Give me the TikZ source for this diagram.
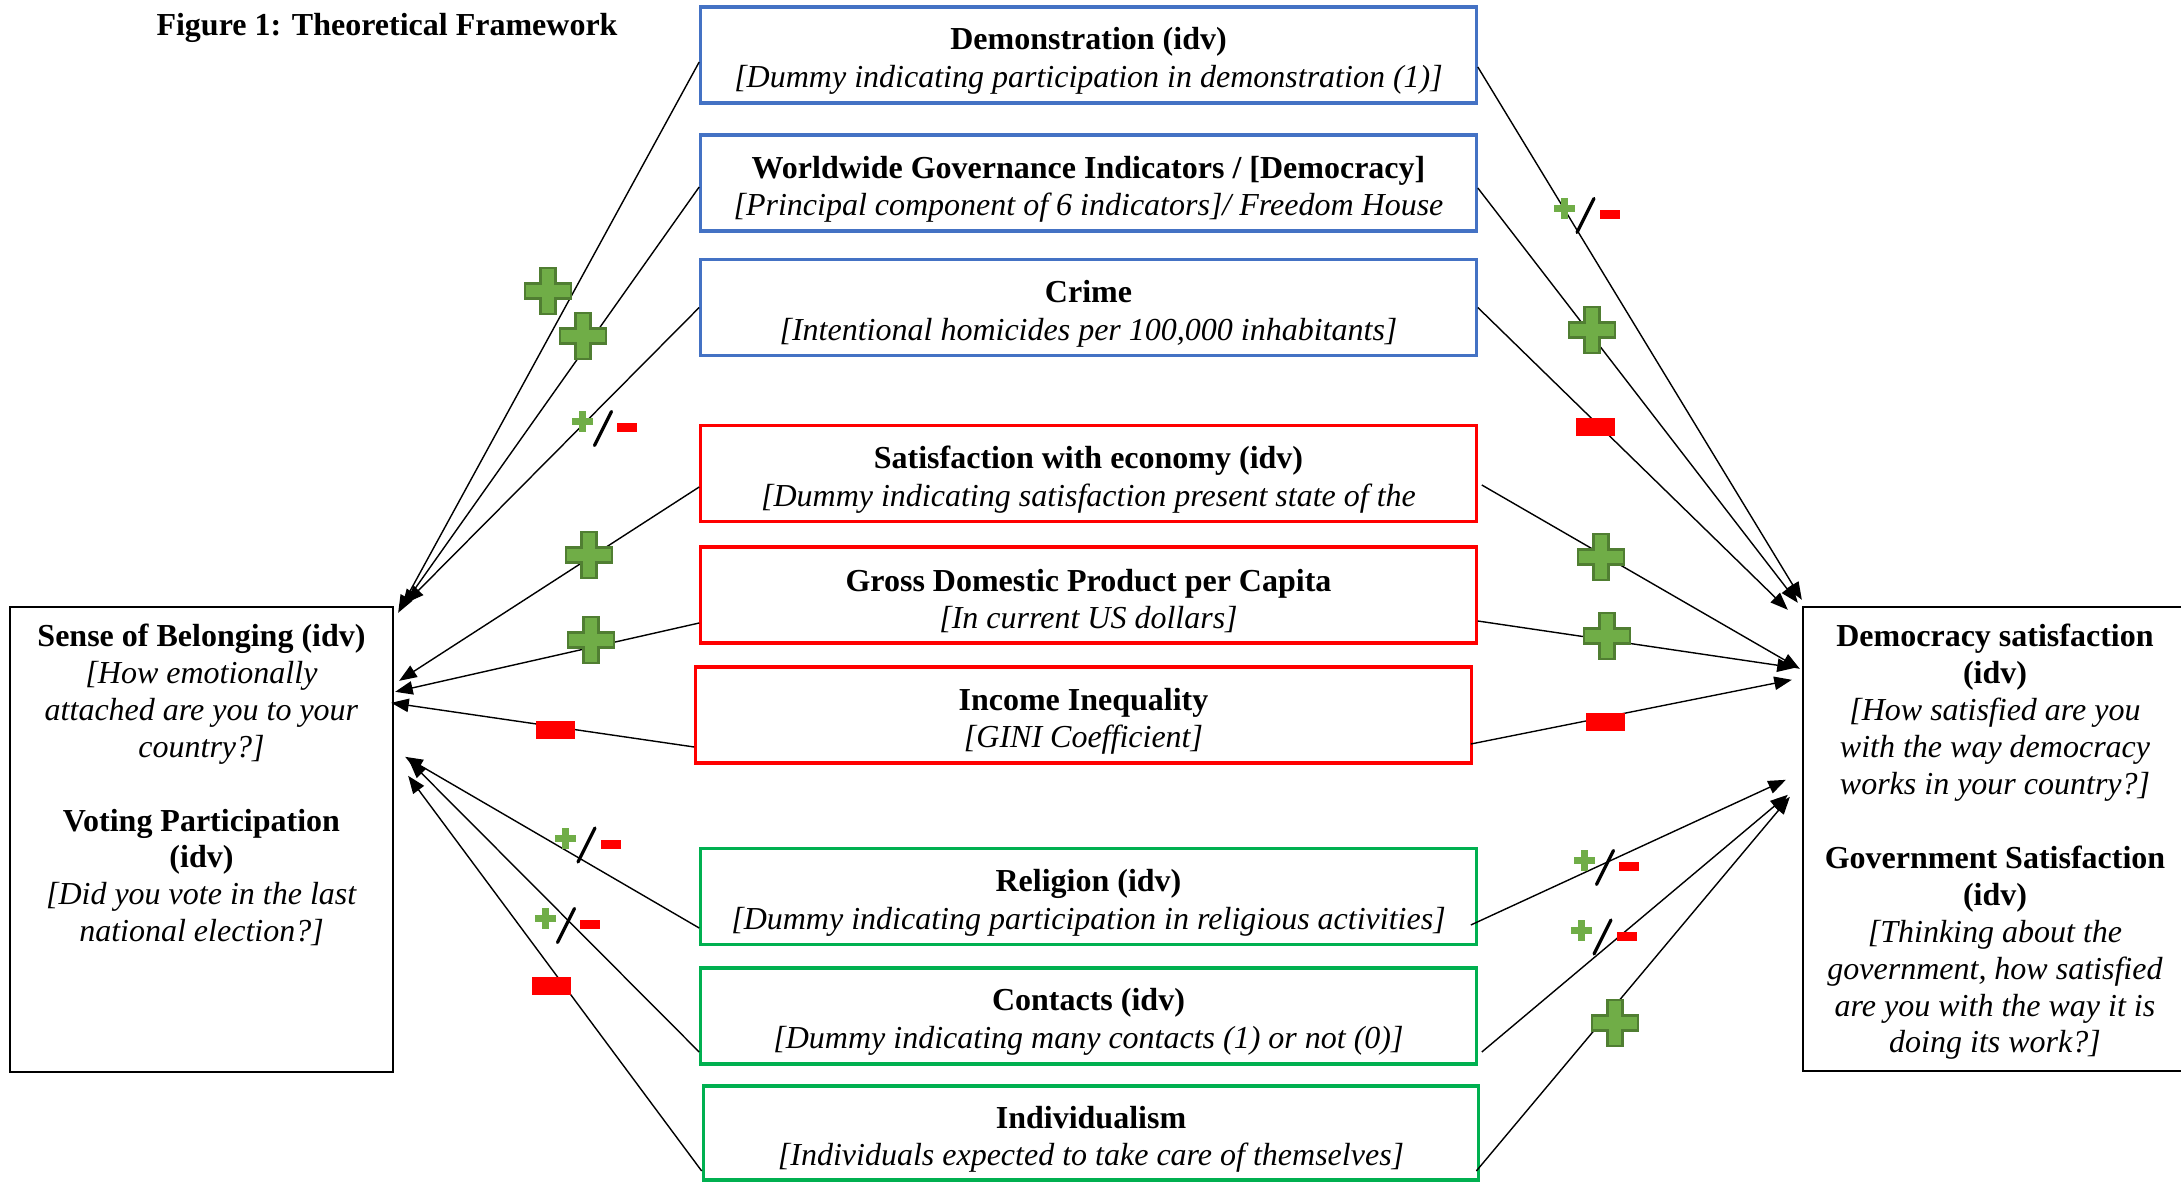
\documentclass[tikz,border=0pt]{standalone}
\usepackage{fontspec}
\setmainfont{Liberation Serif}
\usetikzlibrary{arrows.meta,calc}
\definecolor{boxblue}{HTML}{4472C4}
\definecolor{boxred}{HTML}{FF0000}
\definecolor{boxgreen}{HTML}{00B050}
\definecolor{plusfill}{HTML}{70AD47}
\definecolor{plusdraw}{HTML}{507E32}
\definecolor{minusred}{HTML}{FF0000}
\newcommand\twolines[2]{\rule{0pt}{9.8pt}\textbf{#1}\\ \textit{#2}}
\tikzset{
  cbox/.style={draw, line width=0.9pt, minimum width=7.75cm, minimum height=0.96cm,
    align=center, inner sep=0pt, font=\fontsize{9.1}{10.7}\selectfont},
  bluebox/.style={cbox, draw=boxblue},
  redbox/.style={cbox, draw=boxred},
  greenbox/.style={cbox, draw=boxgreen},
  sidebox/.style={draw, line width=0.6pt, inner sep=0pt},
  sidetext/.style={align=center, inner sep=0pt, font=\fontsize{9.1}{10.5}\selectfont},
  conn/.style={line width=0.4pt, -{Triangle[length=5pt,width=3.8pt]}},
  bigplus/.pic={\filldraw[fill=plusfill, draw=plusdraw, line width=0.6pt]
     (-7.5,-23) -- (7.5,-23) -- (7.5,-7.5) -- (23,-7.5) -- (23,7.5) -- (7.5,7.5) -- (7.5,23)
     -- (-7.5,23) -- (-7.5,7.5) -- (-23,7.5) -- (-23,-7.5) -- (-7.5,-7.5) -- cycle;},
  bigminus/.pic={\fill[minusred] (-19.5,-9) rectangle (19.5,9);},
  pm/.pic={
     \fill[plusfill] (-24.5,-17.5) rectangle (-17.5,3.5);
     \fill[plusfill] (-31.5,-10.5) rectangle (-10.5,-3.5);
     \draw[line width=0.9pt, line cap=round] (-8.5,17) -- (8.5,-17);
     \fill[minusred] (14,-5.5) rectangle (34,3.5);}
}
\begin{document}
\begin{tikzpicture}[x=0.01cm,y=-0.01cm]
\path[use as bounding box] (0,0) rectangle (2181,1182);
\clip (0,0) rectangle (2181,1182);

% title
\node[font=\fontsize{9.1}{10.7}\selectfont\bfseries, inner sep=0pt] (title) at (387,28) {Figure 1: Theoretical Framework};

% central boxes
\node[bluebox] (demo) at (1088.5,55) {\twolines{Demonstration (idv)}{[Dummy indicating participation in demonstration (1)]}};
\node[bluebox] (wgi) at (1088.5,183) {\twolines{Worldwide Governance Indicators / [Democracy]}{[Principal component of 6 indicators]/ Freedom House}};
\node[bluebox] (crime) at (1088.5,307.5) {\twolines{Crime}{[Intentional homicides per 100,000 inhabitants]}};
\node[redbox] (satecon) at (1088.5,473.5) {\twolines{Satisfaction with economy (idv)}{[Dummy indicating satisfaction present state of the}};
\node[redbox] (gdp) at (1088.5,595) {\twolines{Gross Domestic Product per Capita}{[In current US dollars]}};
\node[redbox] (income) at (1083.5,715) {\twolines{Income Inequality}{[GINI Coefficient]}};
\node[greenbox] (religion) at (1088.5,896.5) {\twolines{Religion (idv)}{[Dummy indicating participation in religious activities]}};
\node[greenbox] (contacts) at (1088.5,1016) {\twolines{Contacts (idv)}{[Dummy indicating many contacts (1) or not (0)]}};
\node[greenbox, minimum height=0.94cm] (indiv) at (1091,1133) {\twolines{Individualism}{[Individuals expected to take care of themselves]}};

% side boxes
\node[sidebox, minimum width=3.83cm, minimum height=4.65cm] (sob) at (201.5,839.5) {};
\node[sidetext] (sobtext) at (201.5,785) {\textbf{Sense of Belonging (idv)}\\ \textit{[How emotionally}\\ \textit{attached are you to your}\\ \textit{country?]}\\[10.5pt] \textbf{Voting Participation}\\ \textbf{(idv)}\\ \textit{[Did you vote in the last}\\ \textit{national election?]}};
\node[sidebox, minimum width=3.87cm, minimum height=4.64cm] (dem) at (1996.5,839) {};
\node[sidetext] (demtext) at (1995,842) {\textbf{Democracy satisfaction}\\ \textbf{(idv)}\\ \textit{[How satisfied are you}\\ \textit{with the way democracy}\\ \textit{works in your country?]}\\[10.5pt] \textbf{Government Satisfaction}\\ \textbf{(idv)}\\ \textit{[Thinking about the}\\ \textit{government, how satisfied}\\ \textit{are you with the way it is}\\ \textit{doing its work?]}};

% connectors to Sense of Belonging
\draw[conn] ($(demo.west)+(0,7)$) -- ($(sob.north east)+(4,7)$);
\draw[conn] ($(wgi.west)+(0,4)$) -- ($(sob.north east)+(8,1)$);
\draw[conn] ($(crime.west)+(0,0)$) -- ($(sob.north east)+(12,-3)$);
\draw[conn] ($(satecon.west)+(0,13.5)$) -- ($(sob.north east)+(5,75)$);
\draw[conn] ($(gdp.west)+(0,28)$) -- ($(sob.north east)+(1,86)$);
\draw[conn] ($(income.west)+(0,32)$) -- ($(sob.north east)+(-3,97)$);
\draw[conn] ($(religion.west)+(0,31.5)$) -- ($(sob.north east)+(11,151)$);
\draw[conn] ($(contacts.west)+(0,36)$) -- ($(sob.north east)+(15,155)$);
\draw[conn] ($(indiv.west)+(0,38)$) -- ($(sob.north east)+(14,170)$);

% connectors to Democracy satisfaction
\draw[conn] ($(demo.east)+(0,12)$) -- ($(dem.north west)+(0,-6)$);
\draw[conn] ($(wgi.east)+(0,5)$) -- ($(dem.north west)+(-4,-3)$);
\draw[conn] ($(crime.east)+(0,0)$) -- ($(dem.north west)+(-14,4)$);
\draw[conn] ($(satecon.east)+(4,11.5)$) -- ($(dem.north west)+(-2,63)$);
\draw[conn] ($(gdp.east)+(0,26)$) -- ($(dem.north west)+(-7,62)$);
\draw[conn] ($(income.east)+(-2,29)$) -- ($(dem.north west)+(-10,74)$);
\draw[conn] ($(religion.east)+(-7,28.5)$) -- ($(dem.north west)+(-16,174)$);
\draw[conn] ($(contacts.east)+(4,36)$) -- ($(dem.north west)+(-14,189)$);
\draw[conn] ($(indiv.east)+(-4,38)$) -- ($(dem.north west)+(-12,191)$);

% signs, left side
\pic at (548,291) {bigplus};
\pic at (583,336) {bigplus};
\pic at (603,428.5) {pm};
\pic at (589,555) {bigplus};
\pic at (591,640) {bigplus};
\pic at (555,730) {bigminus};
\pic at (586.5,845) {pm};
\pic at (566,925.5) {pm};
\pic at (551,986) {bigminus};

% signs, right side
\pic at (1585.5,215.5) {pm};
\pic at (1592,330) {bigplus};
\pic at (1595,427) {bigminus};
\pic at (1601,557) {bigplus};
\pic at (1607,636) {bigplus};
\pic at (1605,722) {bigminus};
\pic at (1605,867.5) {pm};
\pic at (1602.5,937) {pm};
\pic at (1615,1023) {bigplus};
\end{tikzpicture}
\end{document}
